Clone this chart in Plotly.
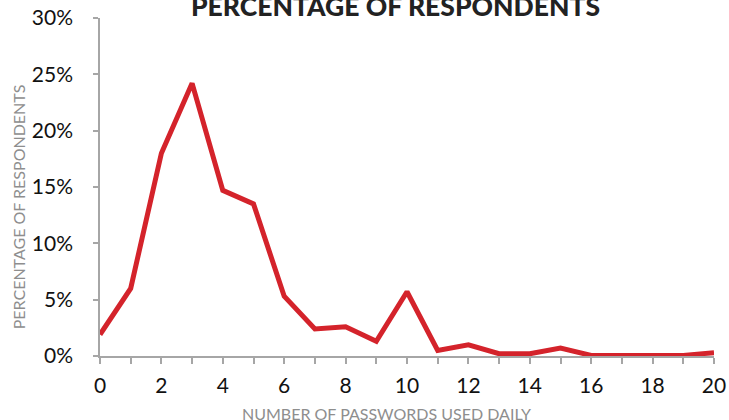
import plotly.graph_objects as go

# Number of passwords used daily vs. share of respondents (%)
passwords = list(range(0, 21))
share_pct = [1.9, 6.0, 18.0, 24.2, 14.7, 13.5, 5.3, 2.4, 2.6, 1.3, 5.7,
             0.5, 1.0, 0.2, 0.2, 0.7, 0.05, 0.05, 0.05, 0.05, 0.3]

y_ticks = [0, 5, 10, 15, 20, 25, 30]
y_tick_labels = [f"{v}%" for v in y_ticks]
x_ticks = list(range(0, 21, 2))

title_text = "PERCENTAGE OF RESPONDENTS"
x_title = "NUMBER OF PASSWORDS USED DAILY"
y_title = "PERCENTAGE OF RESPONDENTS"

fig = go.Figure()
fig.add_trace(go.Scatter(
    x=passwords, y=share_pct, mode="lines",
    line=dict(color="#d4232b", width=5),
    hoverinfo="skip", cliponaxis=False,
))

axis_grey = "#a6a6a6"
tick_font = dict(size=21, family="Lato", color="#111111")
label_font = dict(size=16, family="Lato", color="#8e8e8e", weight=400)

fig.update_layout(
    width=729, height=420,
    margin=dict(l=100, r=15, t=18, b=64, autoexpand=False),
    paper_bgcolor="white", plot_bgcolor="white",
    showlegend=False,
    font=dict(family="Lato", color="#111111"),
    xaxis=dict(
        range=[0, 20], showgrid=False, zeroline=False, automargin=False,
        showline=True, linecolor=axis_grey, linewidth=1.5,
        ticks="outside", tickcolor=axis_grey, ticklen=6, tickwidth=1.5,
        tickvals=x_ticks,
        minor=dict(ticks="outside", dtick=1, ticklen=6, tickcolor=axis_grey, tickwidth=1.5),
        tickfont=tick_font,
        ticklabelstandoff=4,
    ),
    yaxis=dict(
        range=[0, 30], showgrid=False, zeroline=False, automargin=False,
        showline=True, linecolor=axis_grey, linewidth=1.5,
        ticks="outside", tickcolor=axis_grey, ticklen=5, tickwidth=1.5,
        tickvals=y_ticks, ticktext=y_tick_labels,
        tickfont=tick_font,
        ticklabelstandoff=16,
    ),
    annotations=[
        dict(text=title_text, xref="paper", yref="paper",
             x=0.481, y=1, yshift=12, xanchor="center", yanchor="middle",
             showarrow=False,
             font=dict(size=26.5, family="Lato", color="#222222", weight=900)),
        dict(text=x_title, xref="paper", yref="paper",
             x=0.467, y=0, yshift=-57, xanchor="center", yanchor="middle",
             showarrow=False, font=label_font),
        dict(text=y_title, xref="paper", yref="paper",
             x=0, xshift=-82, y=0.44, xanchor="center", yanchor="middle",
             textangle=-90, showarrow=False, font=label_font),
    ],
)

fig.write_html("out.html")
